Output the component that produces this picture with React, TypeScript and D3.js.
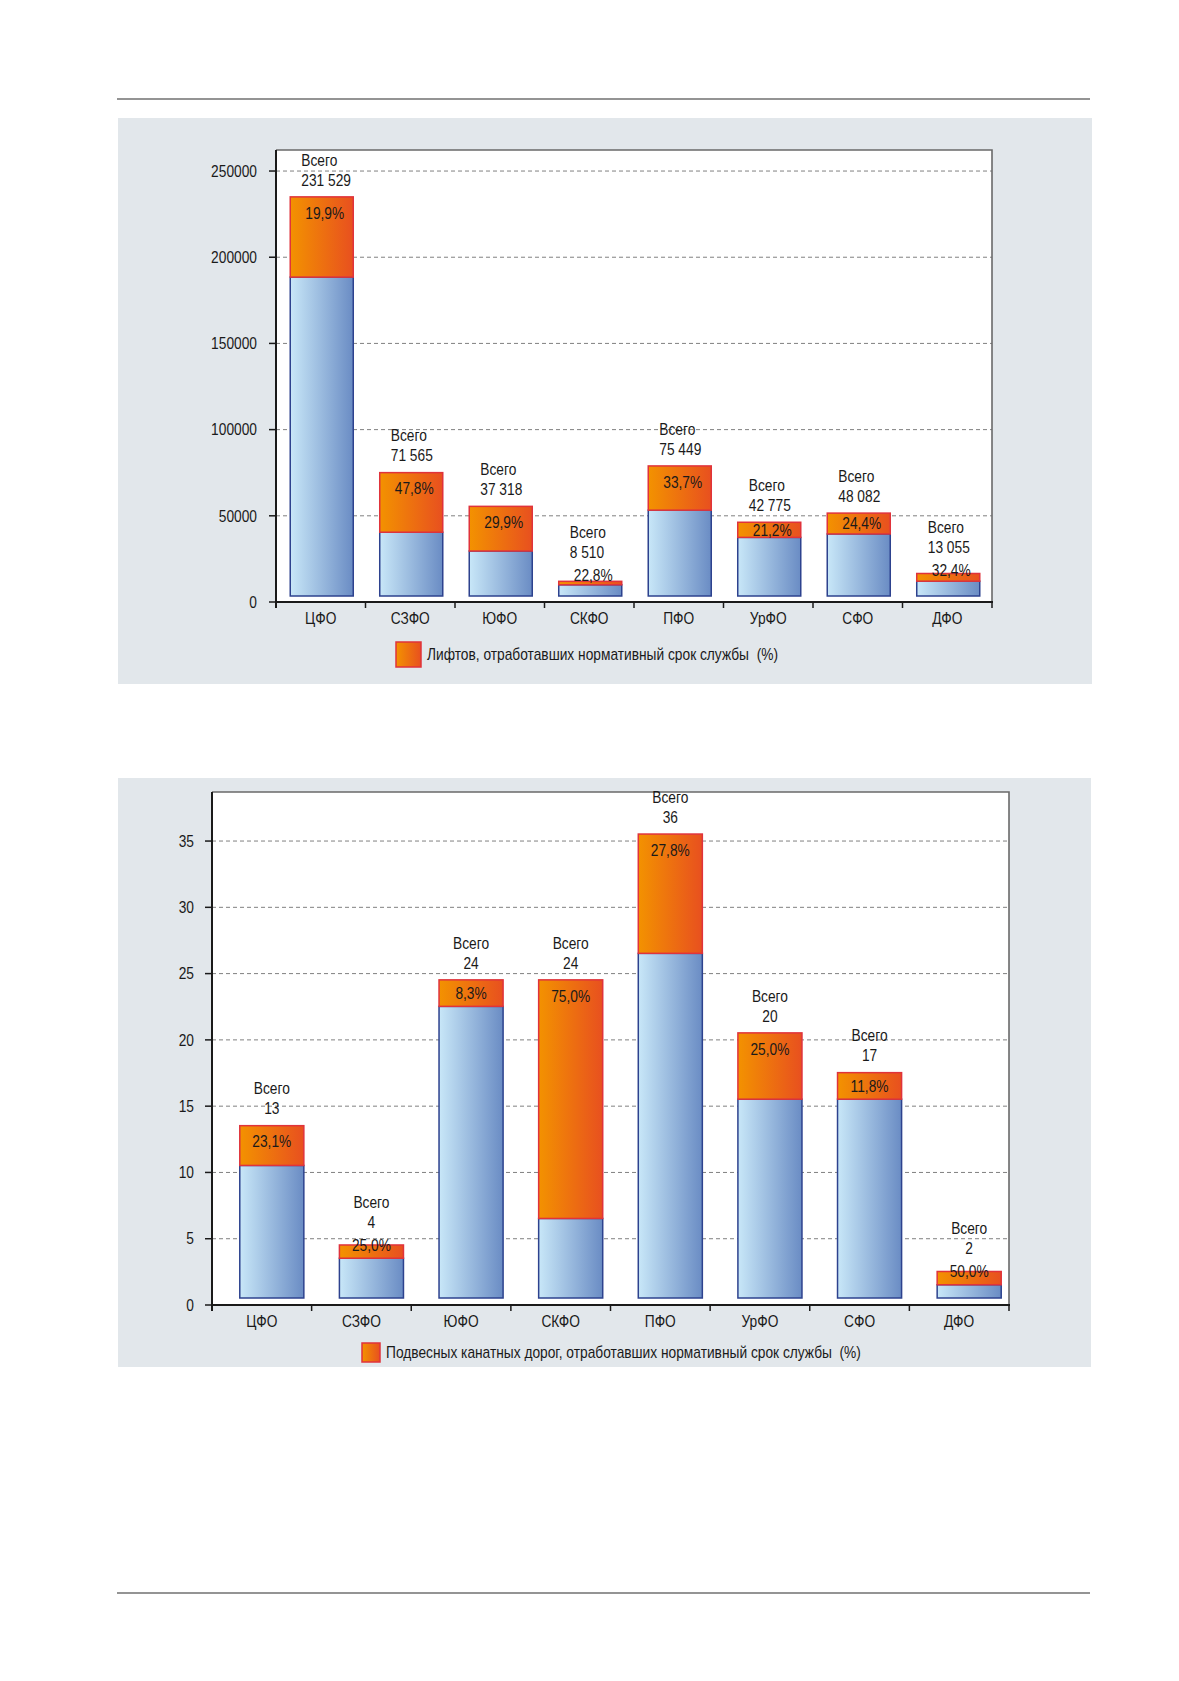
import React from 'react';
import * as d3 from 'd3';

const regions = ['ЦФО', 'СЗФО', 'ЮФО', 'СКФО', 'ПФО', 'УрФО', 'СФО', 'ДФО'];

const liftTicks = [0, 50000, 100000, 150000, 200000, 250000];
const liftTotals = [231529, 71565, 52000, 8510, 75449, 42775, 48082, 13055];
const liftNormal = [185000, 37000, 26100, 6500, 49800, 34000, 36000, 8600];
const liftTotalLabels = ['231 529', '71 565', '37 318', '8 510', '75 449', '42 775', '48 082', '13 055'];
const liftPctLabels = ['19,9%', '47,8%', '29,9%', '22,8%', '33,7%', '21,2%', '24,4%', '32,4%'];
const liftLegend = 'Лифтов, отработавших нормативный срок службы  (%)';

const cableTicks = [0, 5, 10, 15, 20, 25, 30, 35];
const cableTotals = [13, 4, 24, 24, 35, 20, 17, 2];
const cableNormal = [10, 3, 22, 6, 26, 15, 15, 1];
const cableTotalLabels = ['13', '4', '24', '24', '36', '20', '17', '2'];
const cablePctLabels = ['23,1%', '25,0%', '8,3%', '75,0%', '27,8%', '25,0%', '11,8%', '50,0%'];
const cableLegend = 'Подвесных канатных дорог, отработавших нормативный срок службы  (%)';

const FONT = '"Liberation Sans", Arial, sans-serif';
const SX = 0.86;

type Rect = { x0: number; x1: number; y0: number; y1: number };

function T({ x, y, anchor = 'start', size = 16, children }: { x: number; y: number; anchor?: string; size?: number; children: React.ReactNode }) {
  return (
    <text
      transform={`translate(${x},${y}) scale(${SX},1)`}
      dy="0.36em"
      textAnchor={anchor}
      fontSize={size}
      fill="#1a1a1a"
      style={{ whiteSpace: 'pre' }}
    >
      {children}
    </text>
  );
}

type ChartProps = {
  panel: Rect;
  plot: Rect;
  yMax: number;
  ticks: number[];
  totals: number[];
  normals: number[];
  totalLabels: string[];
  pctLabels: string[];
  legendText: string;
  legend: { x: number; y: number; w: number; h: number };
  padInner: number;
  barShift: number;
  lift: number;
  labelAlign: 'start' | 'middle';
  tickLabelX: number;
};

function BarChart(p: ChartProps) {
  const x = d3
    .scaleBand<string>()
    .domain(regions)
    .range([p.plot.x0, p.plot.x1])
    .paddingInner(p.padInner)
    .paddingOuter(p.padInner / 2);
  const y = d3.scaleLinear().domain([0, p.yMax]).range([p.plot.y1, p.plot.y0]);
  const step = x.step();
  const bw = x.bandwidth();
  const slotLeft = (i: number) => p.plot.x0 + i * step;
  const y0 = y(0);

  return (
    <g fontFamily={FONT}>
      <rect x={p.panel.x0} y={p.panel.y0} width={p.panel.x1 - p.panel.x0} height={p.panel.y1 - p.panel.y0} fill="#e2e7eb" />
      <rect x={p.plot.x0} y={p.plot.y0} width={p.plot.x1 - p.plot.x0} height={p.plot.y1 - p.plot.y0} fill="#ffffff" />
      {p.ticks.filter((t) => t > 0).map((t) => (
        <line key={'g' + t} x1={p.plot.x0} x2={p.plot.x1} y1={y(t)} y2={y(t)} stroke="#808080" strokeWidth={1} strokeDasharray="4 3" />
      ))}
      <path d={`M${p.plot.x0},${p.plot.y0}H${p.plot.x1}V${y0}`} fill="none" stroke="#6a6a6a" strokeWidth={1.6} />
      {regions.map((r, i) => {
        const bx = (x(r) as number) + p.barShift;
        const top = y(p.totals[i]) - p.lift;
        const mid = y(p.normals[i]) - p.lift;
        const bottom = y0 - p.lift;
        return (
          <g key={'b' + r}>
            <rect x={bx} y={mid} width={bw} height={bottom - mid} fill="url(#gradBlue)" stroke="#2d428e" strokeWidth={1.5} />
            <rect x={bx} y={top} width={bw} height={mid - top} fill="url(#gradOrange)" stroke="#e0333b" strokeWidth={1.5} />
          </g>
        );
      })}
      <line x1={p.plot.x0} x2={p.plot.x0} y1={p.plot.y0} y2={y0 + 6} stroke="#1a1a1a" strokeWidth={2} />
      <line x1={p.plot.x0 - 1} x2={p.plot.x1 + 1} y1={y0} y2={y0} stroke="#1a1a1a" strokeWidth={2} />
      {d3.range(regions.length + 1).map((i) => (
        <line key={'xt' + i} x1={slotLeft(i)} x2={slotLeft(i)} y1={y0} y2={y0 + 6} stroke="#1a1a1a" strokeWidth={1.5} />
      ))}
      {p.ticks.map((t) => (
        <g key={'yt' + t}>
          <line x1={p.plot.x0 - 7} x2={p.plot.x0} y1={y(t)} y2={y(t)} stroke="#1a1a1a" strokeWidth={1.5} />
          <T x={p.tickLabelX} y={y(t)} anchor="end">{String(t)}</T>
        </g>
      ))}
      {regions.map((r, i) => (
        <T key={'xl' + r} x={slotLeft(i) + step / 2} y={y0 + 16} anchor="middle">{r}</T>
      ))}
      {regions.map((r, i) => {
        const bx = (x(r) as number) + p.barShift;
        const top = y(p.totals[i]) - p.lift;
        const mid = y(p.normals[i]) - p.lift;
        const seg = mid - top;
        const pctY = seg >= 14 ? top + Math.min(16, seg / 2) : top - 8 + seg * 0.6;
        const valY = seg < 14 ? pctY - 23 : top - 17;
        const lx = p.labelAlign === 'start' ? bx + 11 : bx + bw / 2;
        const px = p.labelAlign === 'start' ? bx + bw / 2 + 3 : bx + bw / 2;
        return (
          <g key={'l' + r}>
            <T x={lx} y={valY - 20} anchor={p.labelAlign}>Всего</T>
            <T x={lx} y={valY} anchor={p.labelAlign}>{p.totalLabels[i]}</T>
            <T x={px} y={pctY} anchor="middle">{p.pctLabels[i]}</T>
          </g>
        );
      })}
      <rect x={p.legend.x} y={p.legend.y} width={p.legend.w} height={p.legend.h} fill="url(#gradOrange)" stroke="#e0333b" strokeWidth={1.5} />
      <T x={p.legend.x + p.legend.w + 6} y={p.legend.y + p.legend.h / 2}>{p.legendText}</T>
    </g>
  );
}

export default function App() {
  return (
    <svg width={1179} height={1681} style={{ position: 'absolute', left: 0, top: 0, background: '#ffffff' }}>
      <defs>
        <linearGradient id="gradBlue" x1="0" x2="1" y1="0" y2="0">
          <stop offset="0" stopColor="#c8e7f8" />
          <stop offset="1" stopColor="#6a8cc4" />
        </linearGradient>
        <linearGradient id="gradOrange" x1="0" x2="1" y1="0" y2="0">
          <stop offset="0" stopColor="#f39200" />
          <stop offset="1" stopColor="#e8501f" />
        </linearGradient>
      </defs>
      <line x1={117} x2={1090} y1={99} y2={99} stroke="#707070" strokeWidth={1.5} />
      <line x1={117} x2={1090} y1={1593} y2={1593} stroke="#707070" strokeWidth={1.5} />
      <BarChart
        panel={{ x0: 118, x1: 1092, y0: 118, y1: 684 }}
        plot={{ x0: 276, x1: 992, y0: 150, y1: 602 }}
        yMax={262200}
        ticks={liftTicks}
        totals={liftTotals}
        normals={liftNormal}
        totalLabels={liftTotalLabels}
        pctLabels={liftPctLabels}
        legendText={liftLegend}
        legend={{ x: 396, y: 642, w: 25, h: 25 }}
        padInner={0.296}
        barShift={1}
        lift={6}
        labelAlign="start"
        tickLabelX={257}
      />
      <BarChart
        panel={{ x0: 118, x1: 1091, y0: 778, y1: 1367 }}
        plot={{ x0: 212, x1: 1009, y0: 792, y1: 1305 }}
        yMax={38.7}
        ticks={cableTicks}
        totals={cableTotals}
        normals={cableNormal}
        totalLabels={cableTotalLabels}
        pctLabels={cablePctLabels}
        legendText={cableLegend}
        legend={{ x: 362, y: 1343, w: 18, h: 19 }}
        padInner={0.357}
        barShift={10}
        lift={7}
        labelAlign="middle"
        tickLabelX={194}
      />
    </svg>
  );
}
